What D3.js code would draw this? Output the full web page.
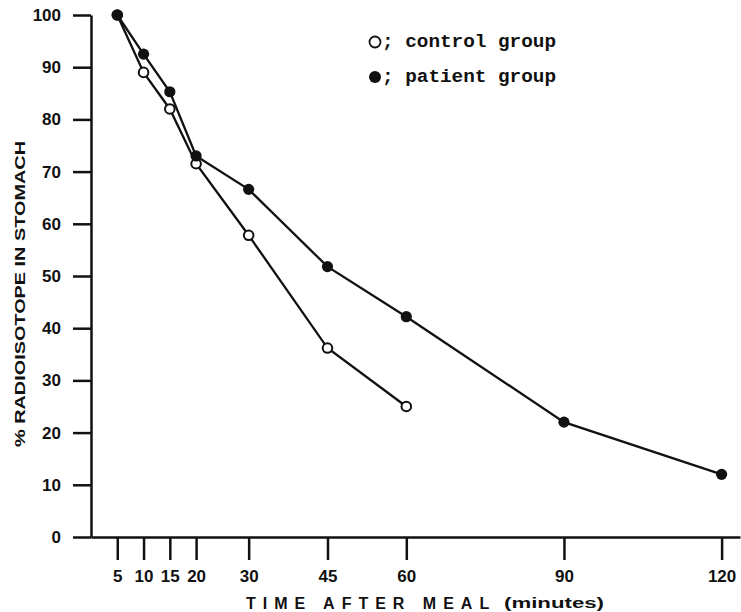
<!DOCTYPE html>
<html>
<head>
<meta charset="utf-8">
<script src="https://cdn.jsdelivr.net/npm/d3@7"></script>
<style>
  body { margin: 0; background: #fff; }
  svg text { font-family: "Liberation Sans", Arial, sans-serif; font-weight: bold; fill: #111; }
</style>
</head>
<body>
<svg id="chart" width="741" height="612"></svg>
<script>
// values
const minutes = [5, 10, 15, 20, 30, 45, 60, 90, 120];
const xTicks = [5, 10, 15, 20, 30, 45, 60, 90, 120];
const yTicks = [0, 10, 20, 30, 40, 50, 60, 70, 80, 90, 100];
const controlMinutes = [5, 10, 15, 20, 30, 45, 60];
const controlValues = [100, 89, 82, 71.5, 57.8, 36.2, 25];
const patientValues = [100, 92.5, 85.3, 73, 66.6, 51.8, 42.2, 22, 12];

const width = 741;
const height = 612;

const svg = d3.select("#chart");

const x = d3.scaleLinear().domain([0, 123.5]).range([91, 740]);
const y = d3.scaleLinear().domain([0, 100]).range([537, 15]);

// y axis
const yAxis = svg.append("g")
    .attr("transform", `translate(${x(0)},0)`)
    .call(d3.axisLeft(y).tickValues(yTicks).tickSize(18).tickPadding(12).tickSizeOuter(0));
yAxis.select(".domain").attr("stroke", "#111").attr("stroke-width", 2.5);
yAxis.selectAll(".tick line").attr("stroke", "#111").attr("stroke-width", 2.5);
yAxis.selectAll(".tick text").style("font-size", "17px").attr("fill", "#111");

// x axis
const xAxis = svg.append("g")
    .attr("transform", `translate(0,${y(0)})`)
    .call(d3.axisBottom(x).tickValues(xTicks).tickSize(23).tickPadding(10).tickSizeOuter(0));
xAxis.select(".domain").attr("stroke", "#111").attr("stroke-width", 2.5);
xAxis.selectAll(".tick line").attr("stroke", "#111").attr("stroke-width", 2.5);
xAxis.selectAll(".tick text").style("font-size", "17px").attr("fill", "#111");

// axis titles
svg.append("text")
    .attr("transform", "translate(25,294) rotate(-90)")
    .attr("text-anchor", "middle")
    .attr("textLength", 306)
    .attr("lengthAdjust", "spacingAndGlyphs")
    .style("font-size", "14px")
    .text("% RADIOISOTOPE   IN   STOMACH");

svg.append("text")
    .attr("x", 246)
    .attr("y", 609)
    .style("font-size", "16px")
    .style("letter-spacing", "7px")
    .text("TIME  AFTER  MEAL");
svg.append("text")
    .attr("x", 504)
    .attr("y", 608)
    .attr("textLength", 100)
    .attr("lengthAdjust", "spacingAndGlyphs")
    .style("font-size", "14px")
    .text("(minutes)");

// lines
const line = d3.line().x(d => x(d[0])).y(d => y(d[1]));
const controlPts = controlMinutes.map((m, i) => [m, controlValues[i]]);
const patientPts = minutes.map((m, i) => [m, patientValues[i]]);

svg.append("path")
    .attr("d", line(controlPts))
    .attr("fill", "none")
    .attr("stroke", "#111")
    .attr("stroke-width", 2.3);
svg.append("path")
    .attr("d", line(patientPts))
    .attr("fill", "none")
    .attr("stroke", "#111")
    .attr("stroke-width", 2.3);

svg.selectAll(".ctrl")
    .data(controlPts)
    .enter()
    .append("circle")
    .attr("class", "ctrl")
    .attr("cx", d => x(d[0]))
    .attr("cy", d => y(d[1]))
    .attr("r", 4.8)
    .attr("fill", "#fff")
    .attr("stroke", "#111")
    .attr("stroke-width", 2);

svg.selectAll(".pat")
    .data(patientPts)
    .enter()
    .append("circle")
    .attr("class", "pat")
    .attr("cx", d => x(d[0]))
    .attr("cy", d => y(d[1]))
    .attr("r", 5.6)
    .attr("fill", "#111");

// legend
const legend = svg.append("g");
legend.append("circle")
    .attr("cx", 375).attr("cy", 42).attr("r", 5.5)
    .attr("fill", "#fff").attr("stroke", "#111").attr("stroke-width", 1.8);
legend.append("circle")
    .attr("cx", 375).attr("cy", 77).attr("r", 6)
    .attr("fill", "#111");
legend.selectAll(".lt")
    .data(["; control group", "; patient group"])
    .enter()
    .append("text")
    .attr("class", "lt")
    .attr("x", 382)
    .attr("y", (d, i) => 47 + i * 35)
    .attr("textLength", 174)
    .attr("lengthAdjust", "spacingAndGlyphs")
    .style("font-family", "'Liberation Mono', 'DejaVu Sans Mono', monospace")
    .style("font-size", "19px")
    .text(d => d);
</script>
</body>
</html>
